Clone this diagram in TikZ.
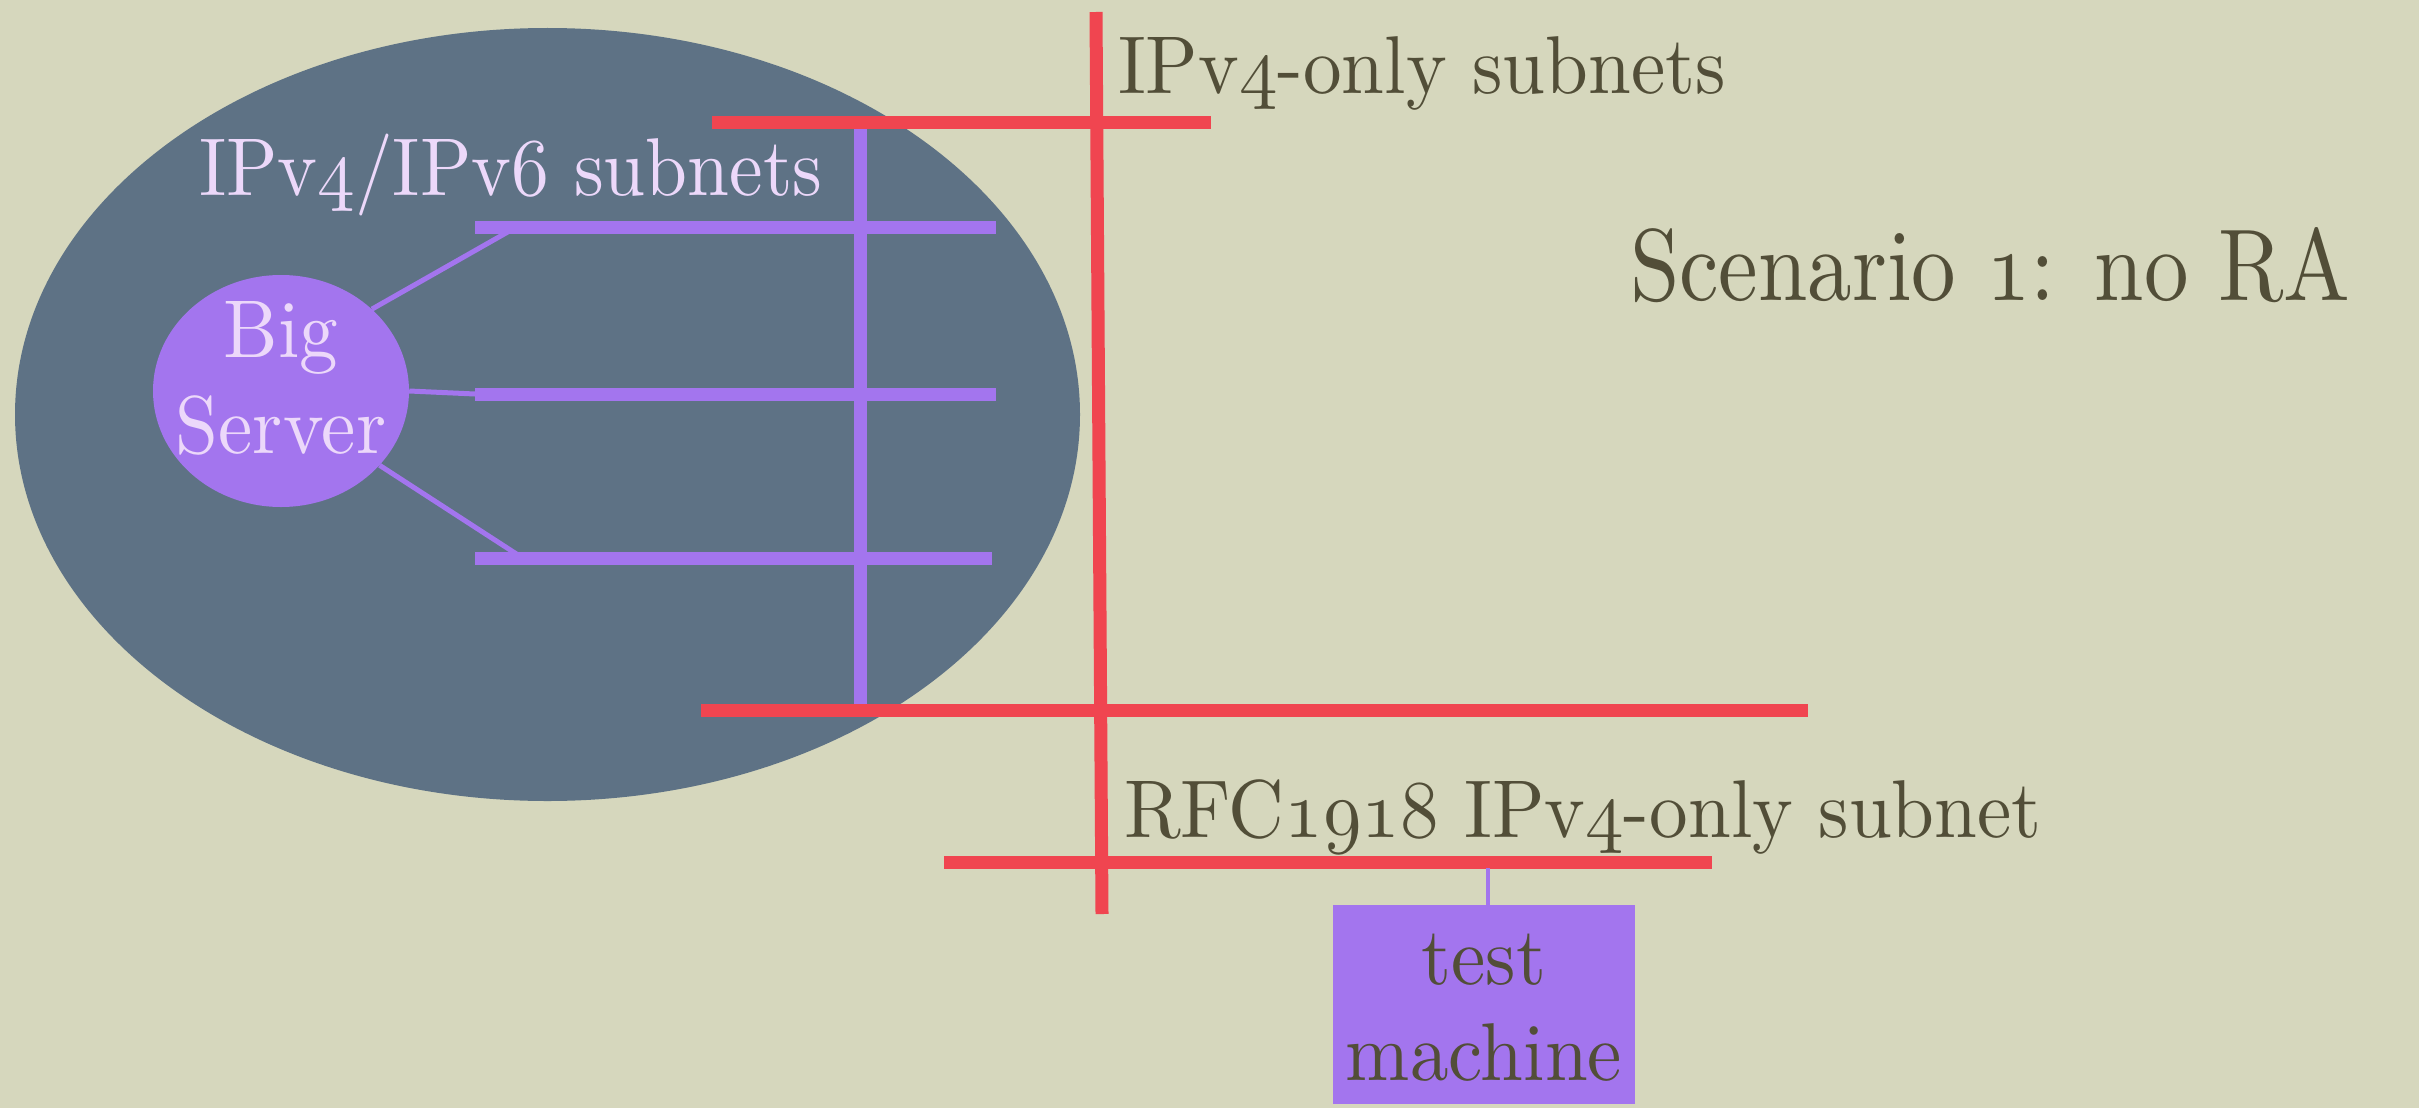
\documentclass[tikz,border=0pt]{standalone}
\usepackage{graphicx}
\usepackage{fontspec}
\setmainfont{lmroman10-regular.otf}
\usetikzlibrary{shapes.geometric}
\font\osfA=cmmi10 at 82pt
\font\osfB=cmmi10 at 102pt
\definecolor{bgbeige}{RGB}{214,215,189}
\definecolor{slate}{RGB}{94,114,133}
\definecolor{netpurple}{RGB}{163,117,238}
\definecolor{netred}{RGB}{240,69,80}
\definecolor{textdark}{RGB}{82,78,56}
\definecolor{textlav}{RGB}{236,216,250}
\newcommand\hx[1]{\scalebox{0.94}[1]{#1}}
\newcommand\hxt[1]{\scalebox{0.872}[1]{#1}}
\newcommand\osn[1]{{\osfA #1}}
\newcommand\osnB[1]{{\osfB #1}}
\begin{document}
\begin{tikzpicture}[x=1pt,y=-1pt,
  lbl/.style={inner sep=0pt, outer sep=0pt, anchor=base west, text=textdark,
              font=\fontsize{82}{96}\selectfont},
  lblc/.style={lbl, anchor=base},
  rednet/.style={draw=netred, line width=13pt},
  purnet/.style={draw=netpurple, line width=13pt},
  thinlink/.style={draw=netpurple, line width=5pt},
]
\fill[bgbeige] (0,0) rectangle (2419,1108);
\useasboundingbox (0,0) rectangle (2419,1108);

% dual-stack area
\node (area) [ellipse, fill=slate, inner sep=0pt, minimum width=1065pt, minimum height=773pt] at (547.5,414.5) {};

% purple (IPv4/IPv6) subnets
\coordinate (p1a) at (475,227);  \coordinate (p1b) at (996,227);
\coordinate (p2a) at (475,394);  \coordinate (p2b) at (996,394);
\coordinate (p3a) at (475,558);  \coordinate (p3b) at (992,558);
\coordinate (pva) at (860,129);  \coordinate (pvb) at (860,705);
\draw[purnet] (p1a) -- (p1b);
\draw[purnet] (p2a) -- (p2b);
\draw[purnet] (p3a) -- (p3b);
\draw[purnet] (pva) -- (pvb);

% big server
\node (server) [ellipse, fill=netpurple, inner sep=0pt, minimum width=256pt, minimum height=232pt] at (281,391) {};
\coordinate (s1) at (513,229);
\coordinate (s3) at (518,555);
\draw[thinlink] (server.42) -- (s1);
\draw[thinlink] (server.east) -- (p2a);
\draw[thinlink] (server.-37) -- (s3);
\node (srvl1) [lblc, text=textlav] at (281,357) {\hx{Big}};
\node (srvl2) [lblc, text=textlav] at (281,453) {\hx{Server}};

% red (IPv4-only) networks
\coordinate (rta) at (712,122.5); \coordinate (rtb) at (1211,122.5);
\coordinate (rma) at (701,710);   \coordinate (rmb) at (1808,710);
\coordinate (rba) at (944,862);   \coordinate (rbb) at (1712,862);
\coordinate (rva) at (1096,12);   \coordinate (rvb) at (1102,914);
\draw[rednet] (rta) -- (rtb);
\draw[rednet] (rma) -- (rmb);
\draw[rednet] (rba) -- (rbb);
\draw[rednet] (rva) -- (rvb);

% test machine
\node (test) [rectangle, fill=netpurple, inner sep=0pt, minimum width=302pt, minimum height=199pt] at (1484,1004.5) {};
\coordinate (tconn) at (1488,868);
\draw[draw=netpurple, line width=4.5pt] (tconn) -- (tconn |- test.north);
\node (testl1) [lblc] at (1484,984) {\hx{test}};
\node (testl2) [lblc] at (1484,1080) {\hx{machine}};

% labels
\node (dslabel) [lbl, text=textlav] at (199,195) {\scalebox{0.92}[1]{IPv\osn{4}/IPv\osn{6} subnets}};
\node (v4label) [lbl] at (1118,93) {\hx{IPv\osn{4}-only subnets}};
\node (rfclabel) [lbl] at (1124,837) {\hx{RFC\osn{1918} IPv\osn{4}-only subnet}};
\node (title) [lbl, font=\fontsize{102}{120}\selectfont] at (1630,300) {\hxt{Scenario \osnB{1}: no RA}};
\end{tikzpicture}
\end{document}
